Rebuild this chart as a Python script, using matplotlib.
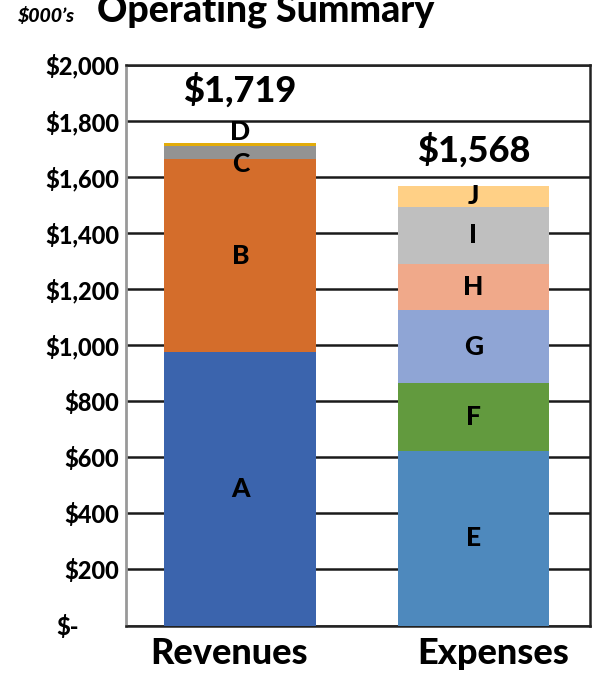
import matplotlib

matplotlib.use("Agg")
import matplotlib.pyplot as plt
import matplotlib.transforms as mtransforms

# values in $000's
categories = ["Revenues", "Expenses"]
revenue_labels = ["A", "B", "C", "D"]
revenue_values = [975, 687, 47, 10]
expense_labels = ["E", "F", "G", "H", "I", "J"]
expense_values = [622, 242, 260, 166, 201, 77]
totals = [1719, 1568]
y_ticks = [0, 200, 400, 600, 800, 1000, 1200, 1400, 1600, 1800, 2000]

revenue_colors = ["#3B64AD", "#D46D2B", "#939393", "#E3AC0A"]
expense_colors = ["#4E89BD", "#629A3E", "#8FA5D5", "#F0A98A", "#BFBFBF", "#FFD086"]

# labels that were nudged off their segment centre in the original
label_nudge = {"C": -42, "D": 46}
total_offset = [191, 128]
cat_shift_px = [-11, 20]

plt.rcParams["font.family"] = ["Lato", "DejaVu Sans"]
WEIGHT = "black"

W, H, DPI = 596, 675, 100
fig = plt.figure(figsize=(W / DPI, H / DPI), dpi=DPI)
ax = fig.add_axes([126 / W, 1 - 625.5 / H, 464 / W, 561 / H])

bar_w = 0.65
for x, labels, values, colors in [
    (0, revenue_labels, revenue_values, revenue_colors),
    (1, expense_labels, expense_values, expense_colors),
]:
    bottom = 0
    for lab, val, col in zip(labels, values, colors):
        ax.bar(x, val, bottom=bottom, width=bar_w, color=col, zorder=3)
        ax.text(x, bottom + val / 2 + label_nudge.get(lab, 0), lab,
                ha="center", va="center", fontsize=19, fontweight=WEIGHT, zorder=4)
        bottom += val

for x, tot, off in zip(range(len(categories)), totals, total_offset):
    ax.text(x, tot + off, f"${tot:,}", ha="center", va="center",
            fontsize=26, fontweight=WEIGHT, zorder=4)

ax.set_xlim(-0.49, 1.5)
ax.set_ylim(0, 2000)
ax.set_yticks(y_ticks)
ax.set_yticklabels([f"${v:,}" if v else "$-" for v in y_ticks],
                   fontsize=17, fontweight=WEIGHT)
ax.set_xticks(range(len(categories)))
ax.set_xticklabels(categories, fontsize=26, fontweight=WEIGHT)
ax.tick_params(axis="y", length=0, pad=5)
ax.tick_params(axis="x", length=0, pad=8)

# zero label sits further left (accounting format)
zero_lab = ax.get_yticklabels()[0]
zero_lab.set_transform(zero_lab.get_transform()
                       + mtransforms.ScaledTranslation(-40 / DPI, 0, fig.dpi_scale_trans))
for lab, dx in zip(ax.get_xticklabels(), cat_shift_px):
    lab.set_transform(lab.get_transform()
                      + mtransforms.ScaledTranslation(dx / DPI, 0, fig.dpi_scale_trans))

ax.grid(axis="y", color="#1a1a1a", linewidth=1.8, zorder=1)
ax.set_axisbelow(True)
ax.spines["left"].set_color("#999999")
ax.spines["left"].set_linewidth(2)
for s in ["top", "right", "bottom"]:
    ax.spines[s].set_color("#222222")
    ax.spines[s].set_linewidth(1.8)

fig.text(266 / W, 1 - 22 / H, "Operating Summary", ha="center", va="baseline",
         fontsize=27, fontweight=WEIGHT)
fig.text(47 / W, 1 - 22 / H, "$000\u2019s", ha="center", va="baseline",
         fontsize=14, fontweight=WEIGHT, style="italic")

fig.savefig("out.png", dpi=DPI)
